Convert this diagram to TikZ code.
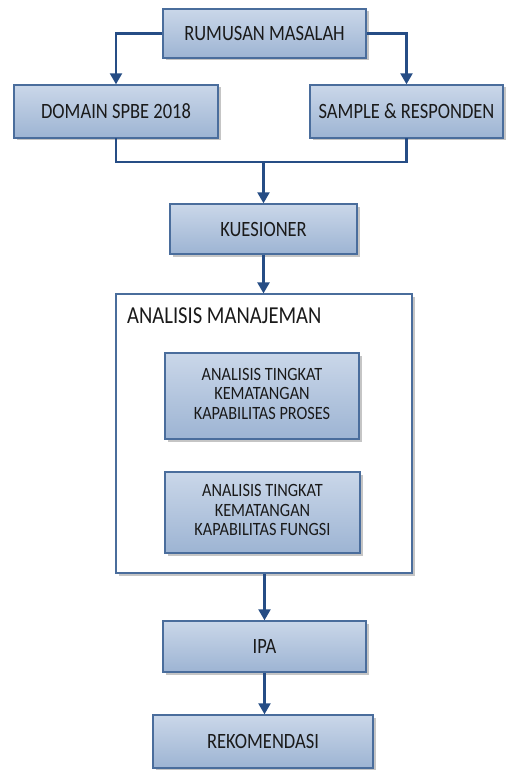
\documentclass[tikz,border=0pt]{standalone}
\usepackage{fontspec}
\setmainfont{Carlito}
\usetikzlibrary{arrows.meta,shadows}
\definecolor{bordc}{HTML}{4A6D9C}
\definecolor{topc}{HTML}{CAD7E9}
\definecolor{botc}{HTML}{9DB4D3}
\definecolor{arrc}{HTML}{264D85}
\definecolor{txtc}{HTML}{1A1A1A}
\newcommand{\vst}[1]{\scalebox{1}[1.18]{#1}}
\newcommand{\vml}[1]{\scalebox{1}[1.15]{\begin{tabular}{@{}c@{}}#1\end{tabular}}}
\tikzset{
  box/.style={draw=bordc, line width=1.4pt, top color=topc, bottom color=botc,
    text=txtc, align=center, inner sep=0pt, font=\fontsize{18.5}{20}\selectfont,
    drop shadow={shadow xshift=2.5pt, shadow yshift=-2.5pt, opacity=0.45, fill=gray}},
  mbox/.style={box, font=\fontsize{16.3}{17}\selectfont},
  conn/.style={draw=arrc, line width=2.3pt},
  arr/.style={conn, -{Triangle[length=11pt,width=12pt]}},
}
\begin{document}
\begin{tikzpicture}[x=1pt,y=-1pt]
\useasboundingbox[fill=white] (0,0) rectangle (516,770);
% big frame
\node[draw=bordc, line width=1.2pt, fill=white, minimum width=296pt, minimum height=279pt, inner sep=0pt,
  drop shadow={shadow xshift=2.5pt, shadow yshift=-2.5pt, opacity=0.45, fill=gray}] (big) at (264,433.5) {};
\node[anchor=west, text=txtc, font=\fontsize{20.6}{22}\selectfont, inner sep=0pt] (bigl) at (127,316) {\vst{ANALISIS MANAJEMAN}};
% boxes
\node[box, minimum width=203pt, minimum height=49pt] (rum) at (264.5,33.5) {\vst{RUMUSAN MASALAH}};
\node[box, minimum width=204pt, minimum height=53pt] (dom) at (116,111.5) {\vst{DOMAIN SPBE 2018}};
\node[box, minimum width=193pt, minimum height=53pt] (sam) at (406.5,111.5) {\vst{SAMPLE \& RESPONDEN}};
\node[box, minimum width=187pt, minimum height=50pt] (kue) at (263.5,229) {\vst{KUESIONER}};
\node[mbox, minimum width=194pt, minimum height=86pt] (in1) at (262,396) {\vml{ANALISIS TINGKAT\\KEMATANGAN\\KAPABILITAS PROSES}};
\node[mbox, minimum width=195pt, minimum height=81pt] (in2) at (262.5,512.5) {\vml{ANALISIS TINGKAT\\KEMATANGAN\\KAPABILITAS FUNGSI}};
\node[box, minimum width=203pt, minimum height=51pt] (ipa) at (264.5,646.5) {\vst{IPA}};
\node[box, minimum width=220pt, minimum height=53pt] (rek) at (263,741.5) {\vst{REKOMENDASI}};
% connectors
\coordinate (j) at (263.5,162);
\draw[arr] (rum.west) -| (dom.north);
\draw[arr] (rum.east) -| (sam.north);
\draw[conn, line cap=rect] (dom.south) |- (j) -| (sam.south);
\draw[arr] (j) -- (kue.north);
\draw[arr] (kue.south) -- (kue.south |- big.north);
\draw[arr] (big.south -| ipa.north) -- (ipa.north);
\draw[arr] (ipa.south) -- (rek.north -| ipa.south);
\end{tikzpicture}
\end{document}
